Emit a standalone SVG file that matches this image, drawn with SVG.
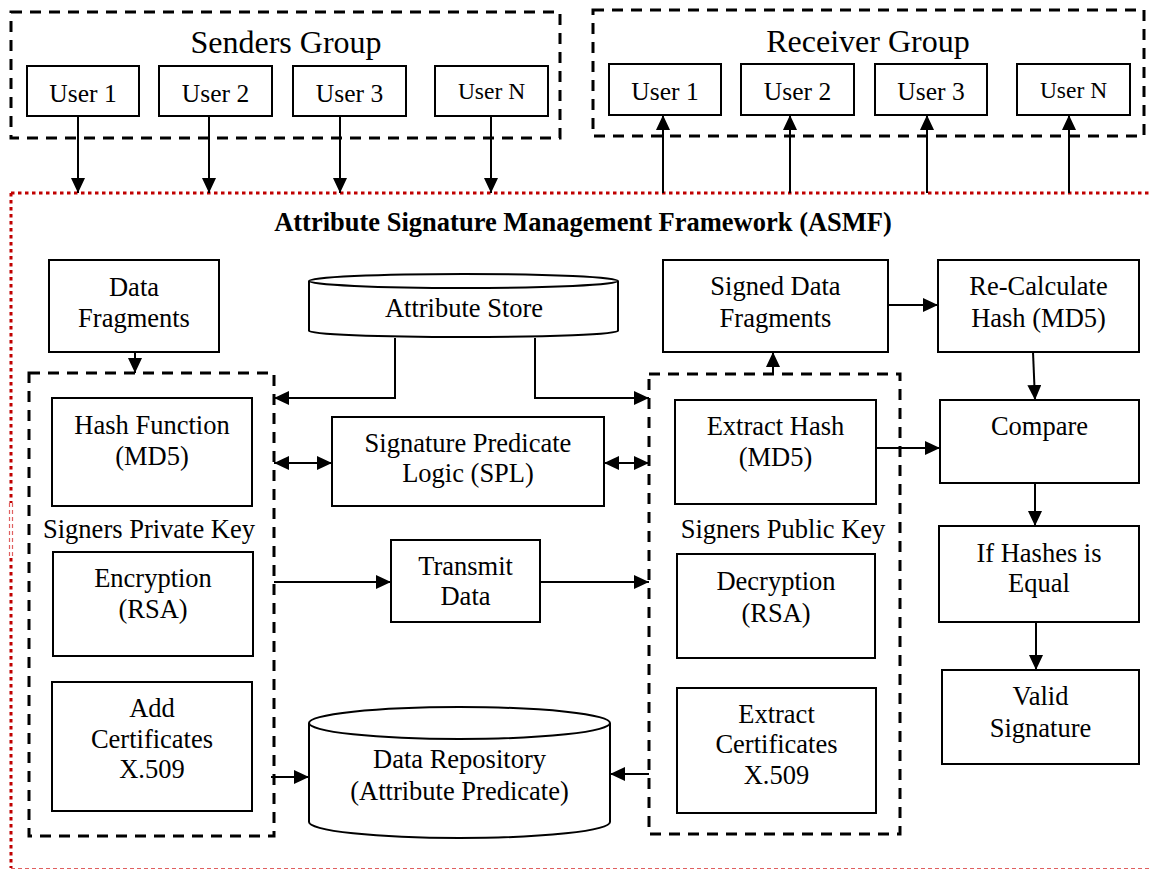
<svg xmlns="http://www.w3.org/2000/svg" width="1149" height="871" viewBox="0 0 1149 871">
<defs>
<style>
text{font-family:"Liberation Serif","Times New Roman",serif;font-size:26.5px;fill:#000;text-anchor:middle}
.grp{fill:none;stroke:#000;stroke-width:3;stroke-dasharray:11 8}
.box{fill:#fff;stroke:#000;stroke-width:2}
.cyl{fill:#fff;stroke:#000;stroke-width:2}
.con{fill:none;stroke:#000;stroke-width:2}
.arr{marker-end:url(#ah)}
.dbl{marker-start:url(#ah);marker-end:url(#ah)}
.red{fill:none;stroke:#c00000;stroke-width:3;stroke-dasharray:3.5 3.5}
.redthin{fill:none;stroke:#e06060;stroke-width:1.2;stroke-dasharray:4 3}
.usr{font-size:25.5px}
.usrN{font-size:23.5px}
.grpt{font-size:32px}
.title{font-weight:bold;font-size:26.5px}
</style>
<marker id="ah" viewBox="0 0 15 14" refX="15" refY="7" markerWidth="15" markerHeight="14" markerUnits="userSpaceOnUse" orient="auto-start-reverse">
<path d="M0,0 L15,7 L0,14 z" fill="#000"/>
</marker>
</defs>
<rect width="1149" height="871" fill="#fff"/>

<g id="asmf-frame">
<line class="red" x1="11" y1="193" x2="1149" y2="193"/>
<line class="red" x1="11" y1="193" x2="11" y2="503"/>
<line class="redthin" x1="9.5" y1="503" x2="9.5" y2="558" stroke-dasharray="2 2"/>
<line class="redthin" x1="12.5" y1="503" x2="12.5" y2="558" stroke-dasharray="2 2"/>
<line class="red" x1="11" y1="558" x2="11" y2="868"/>
<line class="redthin" x1="11" y1="868.5" x2="1149" y2="868.5"/>
<text class="title" x="583" y="231">Attribute Signature Management Framework (ASMF)</text>
</g>

<g id="senders-group">
<rect class="grp" x="11" y="12" width="549" height="126"/>
<text class="grpt" x="286" y="53">Senders Group</text>
</g>
<g id="s-user1"><rect class="box" x="27" y="66" width="112" height="50"/><text class="usr" x="83" y="102">User 1</text></g>
<g id="s-user2"><rect class="box" x="159" y="66" width="113" height="50"/><text class="usr" x="215.5" y="102">User 2</text></g>
<g id="s-user3"><rect class="box" x="293" y="66" width="113" height="50"/><text class="usr" x="349.5" y="102">User 3</text></g>
<g id="s-userN"><rect class="box" x="435" y="66" width="113" height="50"/><text class="usrN" x="491.5" y="99">User N</text></g>

<g id="receiver-group">
<rect class="grp" x="593" y="10" width="551" height="126"/>
<text class="grpt" x="868" y="52">Receiver Group</text>
</g>
<g id="r-user1"><rect class="box" x="609" y="64" width="112" height="51"/><text class="usr" x="665" y="100">User 1</text></g>
<g id="r-user2"><rect class="box" x="741" y="64" width="113" height="51"/><text class="usr" x="797.5" y="100">User 2</text></g>
<g id="r-user3"><rect class="box" x="875" y="64" width="112" height="51"/><text class="usr" x="931" y="100">User 3</text></g>
<g id="r-userN"><rect class="box" x="1017" y="64" width="113" height="51"/><text class="usrN" x="1073.5" y="98">User N</text></g>

<g id="data-fragments"><rect class="box" x="49" y="260" width="170" height="92"/><text x="134" y="296">Data</text><text x="134" y="327">Fragments</text></g>

<g id="attribute-store">
<path class="cyl" d="M309,281 V331 A154.5,6 0 0 0 618,331 V281"/>
<ellipse class="cyl" cx="463.5" cy="281" rx="154.5" ry="7"/>
<text x="464" y="317">Attribute Store</text>
</g>

<g id="private-key-group">
<rect class="grp" x="29" y="373" width="245" height="463"/>
<text x="149" y="538">Signers Private Key</text>
</g>
<g id="hash-function"><rect class="box" x="52" y="398" width="200" height="108"/><text x="152" y="434">Hash Function</text><text x="152" y="465">(MD5)</text></g>
<g id="encryption"><rect class="box" x="53" y="552" width="200" height="104"/><text x="153" y="587">Encryption</text><text x="153" y="618">(RSA)</text></g>
<g id="add-certificates"><rect class="box" x="52" y="682" width="200" height="129"/><text x="152" y="717">Add</text><text x="152" y="748">Certificates</text><text x="152" y="778">X.509</text></g>

<g id="spl"><rect class="box" x="332" y="417" width="272" height="89"/><text x="468" y="452">Signature Predicate</text><text x="468" y="482">Logic (SPL)</text></g>
<g id="transmit-data"><rect class="box" x="391" y="540" width="149" height="82"/><text x="465.5" y="575">Transmit</text><text x="465.5" y="605">Data</text></g>

<g id="data-repository">
<path class="cyl" d="M309,723 V822 A150.5,16 0 0 0 610,822 V723"/>
<ellipse class="cyl" cx="459.5" cy="723" rx="150.5" ry="16"/>
<text x="459.5" y="768">Data Repository</text>
<text x="459.5" y="800">(Attribute Predicate)</text>
</g>

<g id="public-key-group">
<rect class="grp" x="649" y="374" width="251" height="460"/>
<text x="783" y="538">Signers Public Key</text>
</g>
<g id="extract-hash"><rect class="box" x="675" y="400" width="201" height="104"/><text x="775.5" y="435">Extract Hash</text><text x="775.5" y="466">(MD5)</text></g>
<g id="decryption"><rect class="box" x="677" y="554" width="198" height="104"/><text x="776" y="590">Decryption</text><text x="776" y="622">(RSA)</text></g>
<g id="extract-certificates"><rect class="box" x="677" y="688" width="199" height="125"/><text x="776.5" y="723">Extract</text><text x="776.5" y="753">Certificates</text><text x="776.5" y="784">X.509</text></g>

<g id="signed-data-fragments"><rect class="box" x="663" y="260" width="225" height="92"/><text x="775.5" y="295">Signed Data</text><text x="775.5" y="327">Fragments</text></g>
<g id="recalculate-hash"><rect class="box" x="938" y="260" width="201" height="92"/><text x="1038.5" y="295">Re-Calculate</text><text x="1038.5" y="327">Hash (MD5)</text></g>
<g id="compare"><rect class="box" x="940" y="400" width="199" height="83"/><text x="1039.5" y="435">Compare</text></g>
<g id="if-hashes-equal"><rect class="box" x="939" y="526" width="200" height="96"/><text x="1039" y="562">If Hashes is</text><text x="1039" y="592">Equal</text></g>
<g id="valid-signature"><rect class="box" x="942" y="670" width="197" height="94"/><text x="1040.5" y="705">Valid</text><text x="1040.5" y="737">Signature</text></g>

<g id="connectors">
<line class="con arr" x1="78" y1="116" x2="78" y2="193"/>
<line class="con arr" x1="209" y1="116" x2="209" y2="193"/>
<line class="con arr" x1="340" y1="116" x2="340" y2="193"/>
<line class="con arr" x1="491" y1="116" x2="491" y2="193"/>
<line class="con arr" x1="663" y1="193" x2="663" y2="115"/>
<line class="con arr" x1="790" y1="193" x2="790" y2="115"/>
<line class="con arr" x1="927" y1="193" x2="927" y2="115"/>
<line class="con arr" x1="1069" y1="193" x2="1069" y2="115"/>
<line class="con arr" x1="135" y1="352" x2="135" y2="373"/>
<path class="con arr" d="M395,338 V398 H274"/>
<path class="con arr" d="M535,338 V398 H649"/>
<line class="con dbl" x1="274" y1="463" x2="332" y2="463"/>
<line class="con dbl" x1="604" y1="463" x2="649" y2="463"/>
<line class="con arr" x1="274" y1="582" x2="391" y2="582"/>
<line class="con arr" x1="540" y1="582" x2="649" y2="582"/>
<line class="con arr" x1="271" y1="777" x2="309" y2="777"/>
<line class="con arr" x1="649" y1="774" x2="610" y2="774"/>
<line class="con arr" x1="773" y1="374" x2="773" y2="352"/>
<line class="con arr" x1="888" y1="305" x2="938" y2="305"/>
<line class="con arr" x1="1033" y1="352" x2="1035" y2="400"/>
<line class="con arr" x1="876" y1="448" x2="940" y2="448"/>
<line class="con arr" x1="1035" y1="483" x2="1035" y2="526"/>
<line class="con arr" x1="1036" y1="622" x2="1036" y2="670"/>
</g>
</svg>
